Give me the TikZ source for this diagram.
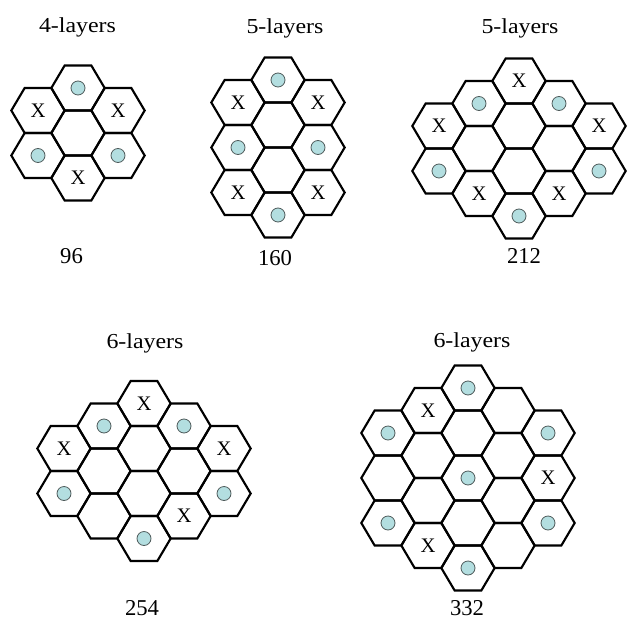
\documentclass[tikz,border=0pt]{standalone}
\usepackage{fontspec}
\setmainfont{Liberation Serif}
\definecolor{dotfill}{HTML}{B3DEE0}
\definecolor{dotline}{HTML}{4F5B5B}
\tikzset{
  hexline/.style={line width=1.6pt, line join=miter, black},
  dotmark/.style={circle, draw=dotline, line width=0.6pt, fill=dotfill, minimum size=10.5pt, inner sep=0pt},
  xmark/.style={inner sep=0pt, font=\fontsize{15.5}{15.5}\selectfont},
  title/.style={inner sep=0pt, font=\fontsize{16}{16}\selectfont, xscale=1.12},
  count/.style={inner sep=0pt, font=\fontsize{17}{17}\selectfont},
}
\newcommand{\hexcell}[4]{%
  \draw[hexline] (#2,#3) ++(-26.67,0) -- ++(13.33,-22.5) -- ++(26.67,0) -- ++(13.33,22.5) -- ++(-13.33,22.5) -- ++(-26.67,0) -- cycle;
  \if#4X\node[xmark] (#1) at (#2,#3) {X};\fi
  \if#4D\node[dotmark] (#1) at (#2,#3) {};\fi
  \if#4E\coordinate (#1) at (#2,#3);\fi
}
\begin{document}
\begin{tikzpicture}[x=0.75pt,y=-0.75pt]
\fill[white] (0,0) rectangle (628,621);
\useasboundingbox (0,0) rectangle (628,621);

% ---- cluster 1: 4-layers
\node[title] (t1) at (77.5,27) {4-layers};
\hexcell{a1}{78}{88}{D}
\hexcell{a2}{78}{133}{E}
\hexcell{a3}{78}{178}{X}
\hexcell{a4}{38}{110.5}{X}
\hexcell{a5}{38}{155.5}{D}
\hexcell{a6}{118}{110.5}{X}
\hexcell{a7}{118}{155.5}{D}
\node[count] (n1) at (71.5,256.5) {96};

% ---- cluster 2: 5-layers
\node[title] (t2) at (285,28) {5-layers};
\hexcell{b1}{278}{80}{D}
\hexcell{b2}{278}{125}{E}
\hexcell{b3}{278}{170}{E}
\hexcell{b4}{278}{215}{D}
\hexcell{b5}{238}{102.5}{X}
\hexcell{b6}{238}{147.5}{D}
\hexcell{b7}{238}{192.5}{X}
\hexcell{b8}{318}{102.5}{X}
\hexcell{b9}{318}{147.5}{D}
\hexcell{b10}{318}{192.5}{X}
\node[count] (n2) at (275,258) {160};

% ---- cluster 3: 5-layers
\node[title] (t3) at (520,28) {5-layers};
\hexcell{c1}{439}{126}{X}
\hexcell{c2}{439}{171}{D}
\hexcell{c3}{479}{103.5}{D}
\hexcell{c4}{479}{148.5}{E}
\hexcell{c5}{479}{193.5}{X}
\hexcell{c6}{519}{81}{X}
\hexcell{c7}{519}{126}{E}
\hexcell{c8}{519}{171}{E}
\hexcell{c9}{519}{216}{D}
\hexcell{c10}{559}{103.5}{D}
\hexcell{c11}{559}{148.5}{E}
\hexcell{c12}{559}{193.5}{X}
\hexcell{c13}{599}{126}{X}
\hexcell{c14}{599}{171}{D}
\node[count] (n3) at (524,256) {212};

% ---- cluster 4: 6-layers
\node[title] (t4) at (145,343) {6-layers};
\hexcell{d1}{64}{448.5}{X}
\hexcell{d2}{64}{493.5}{D}
\hexcell{d3}{104}{426}{D}
\hexcell{d4}{104}{471}{E}
\hexcell{d5}{104}{516}{E}
\hexcell{d6}{144}{403.5}{X}
\hexcell{d7}{144}{448.5}{E}
\hexcell{d8}{144}{493.5}{E}
\hexcell{d9}{144}{538.5}{D}
\hexcell{d10}{184}{426}{D}
\hexcell{d11}{184}{471}{E}
\hexcell{d12}{184}{516}{X}
\hexcell{d13}{224}{448.5}{X}
\hexcell{d14}{224}{493.5}{D}
\node[count] (n4) at (142,608) {254};

% ---- cluster 5: 6-layers
\node[title] (t5) at (472,342) {6-layers};
\hexcell{e1}{388}{433}{D}
\hexcell{e2}{388}{478}{E}
\hexcell{e3}{388}{523}{D}
\hexcell{e4}{428}{410.5}{X}
\hexcell{e5}{428}{455.5}{E}
\hexcell{e6}{428}{500.5}{E}
\hexcell{e7}{428}{545.5}{X}
\hexcell{e8}{468}{388}{D}
\hexcell{e9}{468}{433}{E}
\hexcell{e10}{468}{478}{D}
\hexcell{e11}{468}{523}{E}
\hexcell{e12}{468}{568}{D}
\hexcell{e13}{508}{410.5}{E}
\hexcell{e14}{508}{455.5}{E}
\hexcell{e15}{508}{500.5}{E}
\hexcell{e16}{508}{545.5}{E}
\hexcell{e17}{548}{433}{D}
\hexcell{e18}{548}{478}{X}
\hexcell{e19}{548}{523}{D}
\node[count] (n5) at (467,608) {332};
\end{tikzpicture}
\end{document}
